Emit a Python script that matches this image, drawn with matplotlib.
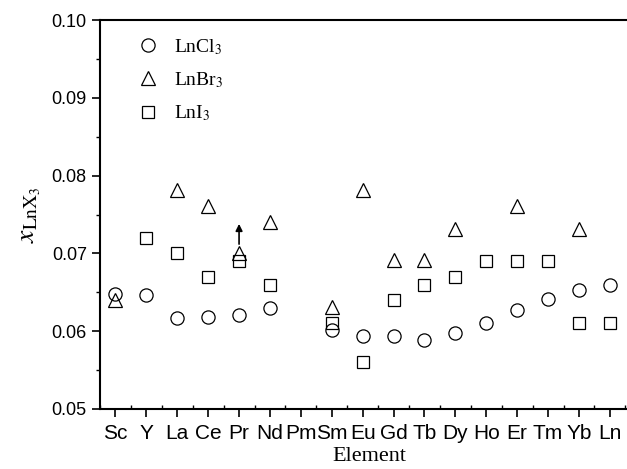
import matplotlib
matplotlib.use("Agg")
import matplotlib.pyplot as plt
from matplotlib.ticker import MultipleLocator
import numpy as np

plt.rcParams["mathtext.fontset"] = "stix"

elements = ["Sc", "Y", "La", "Ce", "Pr", "Nd", "Pm", "Sm", "Eu", "Gd", "Tb",
            "Dy", "Ho", "Er", "Tm", "Yb", "Ln"]

# nan where no point is drawn
lncl3 = [0.0648, 0.0647, 0.0617, 0.0618, 0.0621, 0.0630, np.nan, 0.0601, 0.0594,
         0.0594, 0.0589, 0.0598, 0.0610, 0.0627, 0.0641, 0.0653, 0.0659]
lnbr3 = [0.0640, np.nan, 0.0781, 0.0761, 0.0701, 0.0741, np.nan, 0.0631, 0.0781,
         0.0691, 0.0691, 0.0731, np.nan, 0.0761, np.nan, 0.0731, np.nan]
lni3 = [np.nan, 0.0720, 0.0700, 0.0670, 0.0690, 0.0660, np.nan, 0.0610, 0.0560,
        0.0640, 0.0660, 0.0670, 0.0690, 0.0690, 0.0690, 0.0610, 0.0610]

# upward arrow above Pr
arrow_x = "Pr"
arrow_from = 0.0712
arrow_to = 0.0738

x = np.arange(len(elements))

fig = plt.figure(figsize=(6.27, 4.69), dpi=100)
ax = fig.add_axes([0.1595, 0.128, 0.86, 0.829])

ax.plot(x, lncl3, "o", ms=9.5, mfc="none", mec="black", mew=0.9, label=r"LnCl$_3$")
ax.plot(x, lnbr3, "^", ms=10.5, mfc="none", mec="black", mew=0.9, label=r"LnBr$_3$")
ax.plot(x, lni3, "s", ms=8, mfc="none", mec="black", mew=0.9, label=r"LnI$_3$")

xi = elements.index(arrow_x)
ax.annotate("", xy=(xi, arrow_to), xytext=(xi, arrow_from),
            arrowprops=dict(arrowstyle="-|>", color="black", lw=1.2,
                            mutation_scale=10, shrinkA=0, shrinkB=0))

ax.set_xlim(-0.5, 16.95)
ax.set_ylim(0.05, 0.10)
ax.set_xticks(x)
ax.set_xticklabels(elements, fontfamily="Liberation Sans", fontsize=15)
ax.xaxis.set_minor_locator(MultipleLocator(0.5))
ax.yaxis.set_major_locator(MultipleLocator(0.01))
ax.yaxis.set_minor_locator(MultipleLocator(0.005))
ax.set_yticks(ax.get_yticks())
ax.set_yticklabels(["%.2f" % v for v in ax.get_yticks()],
                   fontfamily="Liberation Sans", fontsize=13)
ax.set_ylim(0.05, 0.10)

ax.tick_params(which="major", direction="out", length=6, width=1.2)
ax.tick_params(which="minor", direction="out", length=3, width=1.0)
ax.tick_params(axis="x", which="minor", direction="in", length=3)
ax.tick_params(axis="x", which="major", pad=5)
ax.spines["right"].set_visible(False)
for s in ["left", "bottom", "top"]:
    ax.spines[s].set_linewidth(1.5)

ax.set_xlabel("Element", fontfamily="Liberation Serif", fontsize=16, labelpad=3)
ax.set_ylabel(r"$x_{\mathrm{LnX}_3}$", fontsize=20, labelpad=6)

leg = ax.legend(loc="upper left", bbox_to_anchor=(0.047, 0.977), borderaxespad=0,
                frameon=False, handletextpad=0.6, labelspacing=0.7,
                handlelength=1.5, prop={"family": "Liberation Serif", "size": 14})

fig.savefig("out.png", dpi=100)
